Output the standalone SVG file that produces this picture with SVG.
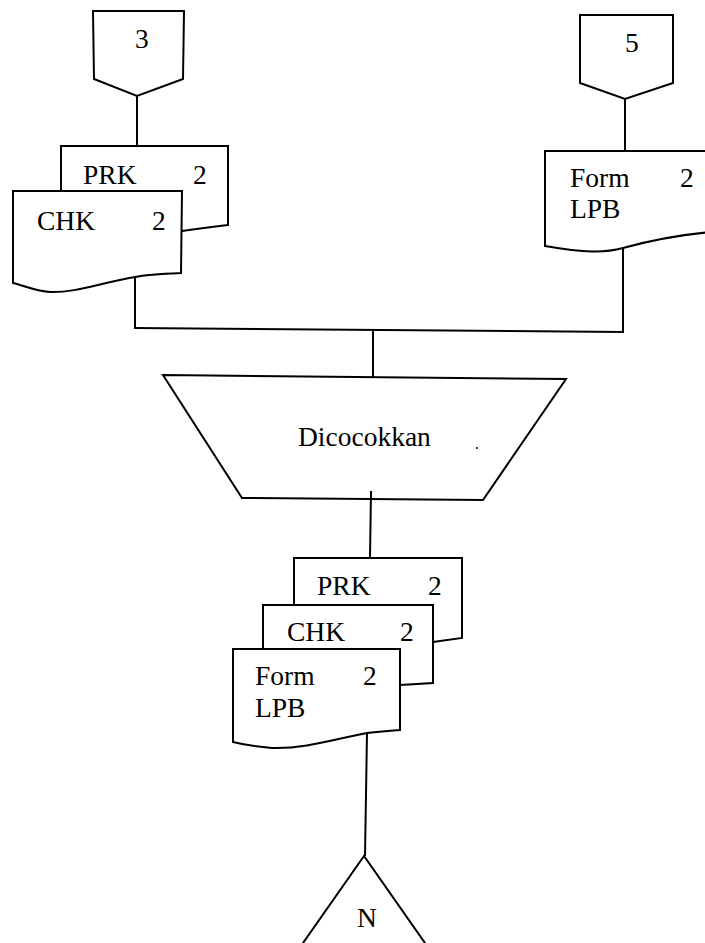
<svg xmlns="http://www.w3.org/2000/svg" width="705" height="943" viewBox="0 0 705 943">
  <style>
    .shape { fill: #fff; stroke: #000; stroke-width: 2; stroke-linejoin: miter; }
    .line { fill: none; stroke: #000; stroke-width: 2; }
    .lbl { font-family: "Liberation Serif", "Times New Roman", serif; font-size: 27.5px; fill: #000; }
  </style>
  <rect width="705" height="943" fill="#fff"/>

  <!-- connectors -->
  <g id="connectors" class="line">
    <line x1="137" y1="96" x2="137" y2="146"/>
    <line x1="625" y1="99" x2="625" y2="151"/>
    <line x1="135" y1="277" x2="135" y2="328"/>
    <line x1="623" y1="248" x2="623" y2="333"/>
    <line x1="134" y1="328" x2="624" y2="332"/>
    <line x1="373" y1="330" x2="373" y2="377"/>
    <line x1="371" y1="491" x2="370" y2="558"/>
    <line x1="367" y1="733" x2="365" y2="856"/>
  </g>

  <!-- off-page connector 3 -->
  <g id="conn-3">
    <polygon class="shape" points="93,11 184,11 183,79 137,96 94,79"/>
    <text class="lbl" x="135" y="48">3</text>
  </g>

  <!-- off-page connector 5 -->
  <g id="conn-5">
    <polygon class="shape" points="580,15 673,15 673,83 625,99 580,83"/>
    <text class="lbl" x="625" y="52">5</text>
  </g>

  <!-- documents PRK / CHK (left) -->
  <g id="doc-prk-1">
    <path class="shape" d="M61,146 L228,146 L228,225 C210,227 195,229 182,231 C140,238 100,245 61,238 Z"/>
    <text class="lbl" x="83" y="184">PRK</text>
    <text class="lbl" x="193" y="184">2</text>
  </g>
  <g id="doc-chk-1">
    <path class="shape" d="M13,191 L182,191 L181,273 C160,274 145,275 135,277 C100,283 75,293 50,292 C35,291 25,286 13,283 Z"/>
    <text class="lbl" x="37" y="230">CHK</text>
    <text class="lbl" x="152" y="230">2</text>
  </g>

  <!-- document Form LPB (right) -->
  <g id="doc-lpb-1">
    <path class="shape" d="M545,151 L712,151 L712,232 C675,235 645,242 623,248 C605,253 585,253 545,246 Z"/>
    <text class="lbl" x="570" y="187">Form</text>
    <text class="lbl" x="680" y="187">2</text>
    <text class="lbl" x="570" y="218">LPB</text>
  </g>

  <!-- manual operation -->
  <g id="op-dicocokkan">
    <polygon class="shape" points="163,375 566,379 483,500 242,498"/>
    <line class="line" x1="371" y1="491" x2="371" y2="500"/>
    <text class="lbl" x="298" y="446">Dicocokkan</text>
    <circle cx="477" cy="448" r="1" fill="#000"/>
  </g>

  <!-- stacked documents (bottom) -->
  <g id="doc-prk-2">
    <path class="shape" d="M294,558 L462,558 L462,638 L433,642 C400,647 360,650 294,640 Z"/>
    <text class="lbl" x="317" y="595">PRK</text>
    <text class="lbl" x="428" y="595">2</text>
  </g>
  <g id="doc-chk-2">
    <path class="shape" d="M263,605 L433,605 L433,683 L400,685 C380,688 340,690 263,680 Z"/>
    <text class="lbl" x="287" y="641">CHK</text>
    <text class="lbl" x="400" y="641">2</text>
  </g>
  <g id="doc-lpb-2">
    <path class="shape" d="M233,649 L400,649 L400,730 C385,731 375,732 367,733 C335,739 305,749 272,748 C258,747 245,745 233,742 Z"/>
    <text class="lbl" x="255" y="685">Form</text>
    <text class="lbl" x="363" y="685">2</text>
    <text class="lbl" x="255" y="717">LPB</text>
  </g>

  <!-- terminal N -->
  <g id="end-n">
    <polygon class="shape" points="364,856 296,953 432,953"/>
    <text class="lbl" x="357" y="927">N</text>
  </g>
</svg>
